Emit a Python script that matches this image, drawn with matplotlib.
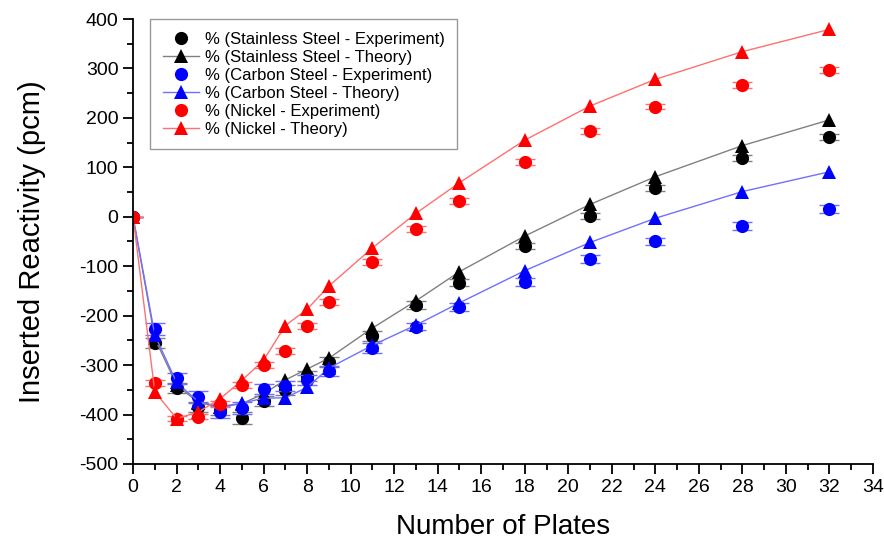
''' Inserted reactivity vs number of plates. '''

import matplotlib
matplotlib.use('Agg')
from matplotlib import pyplot as plt
from matplotlib.ticker import MultipleLocator

plt.rcParams['font.family'] = ['Liberation Sans', 'DejaVu Sans']
plt.rcParams['axes.unicode_minus'] = False

plates = [0, 1, 2, 3, 4, 5, 6, 7, 8, 9, 11, 13, 15, 18, 21, 24, 28, 32]

ssExp = [0, -256, -347, -384, -390, -407, -372, -350, -322, -293, -242, -178, -133, -60, 2, 58, 118, 162]
ssTheory = [0, -246, -340, -376, -385, -378, -358, -330, -308, -286, -225, -170, -111, -39, 25, 81, 144, 196]
csExp = [0, -227, -327, -364, -394, -387, -349, -342, -331, -312, -265, -222, -183, -131, -86, -50, -18, 16]
csTheory = [0, -239, -335, -374, -384, -377, -367, -366, -345, -306, -260, -219, -174, -109, -52, -3, 51, 91]
niExp = [0, -337, -408, -404, -378, -340, -300, -271, -221, -172, -92, -25, 31, 110, 173, 223, 267, 297]
niTheory = [0, -354, -408, -395, -368, -331, -290, -220, -187, -140, -63, 7, 69, 155, 224, 278, 334, 379]

# error bars on the experiments (read roughly from the caps)
ssErr = [0, 10, 10, 10, 10, 12, 10, 10, 10, 10, 10, 8, 8, 6, 6, 6, 6, 6]
csErr = [0, 12, 12, 12, 12, 12, 10, 10, 10, 10, 10, 8, 8, 8, 8, 8, 8, 8]
niErr = [0, 6, 6, 6, 6, 6, 6, 6, 6, 6, 6, 6, 6, 6, 6, 6, 6, 6]

series = [
	('Stainless Steel', ssExp, ssErr, ssTheory, 'black', '#808080'),
	('Carbon Steel', csExp, csErr, csTheory, 'blue', '#7070ff'),
	('Nickel', niExp, niErr, niTheory, 'red', '#ff7070'),
]

fig = plt.figure(figsize=(8.84, 5.43), dpi=100)
ax = fig.add_axes([0.1505, 0.1455, 0.837, 0.8195])

for name, exp, err, theory, col, lineCol in series:
	ax.errorbar(plates, exp, yerr=err, fmt='none', ecolor=lineCol, elinewidth=1, capsize=7, capthick=1)
	ax.plot(plates, exp, 'o', color=col, markersize=9.5, markeredgewidth=0,
		label='% (' + name + ' - Experiment)')
	ax.plot(plates, theory, '-', color=lineCol, linewidth=1, marker='^', markersize=10.5,
		markerfacecolor=col, markeredgecolor=col, markeredgewidth=0,
		label='% (' + name + ' - Theory)')

# legend order follows the original: experiment then theory, per material
handles, labels = ax.get_legend_handles_labels()
leg = ax.legend(handles, labels, loc='upper left', bbox_to_anchor=(0.023, 1.0), borderaxespad=0,
	fontsize=12, frameon=True, fancybox=False, edgecolor='#808080', handlelength=2.2,
	handletextpad=0.35, labelspacing=0.18, borderpad=0.55)
leg.get_frame().set_linewidth(1)
# wider left gap than the default, as in the original box
leg._legend_box.sep = 0
leg._legend_handle_box.pad = 0
leg._legend_box.pad = 9
leg._legend_box.align = 'baseline'

ax.set_xlim(0, 34)
ax.set_ylim(-500, 400)
ax.xaxis.set_major_locator(MultipleLocator(2))
ax.xaxis.set_minor_locator(MultipleLocator(1))
ax.yaxis.set_major_locator(MultipleLocator(100))
ax.yaxis.set_minor_locator(MultipleLocator(50))
ax.spines['top'].set_visible(False)
ax.spines['right'].set_visible(False)
for s in ['left', 'bottom']:
	ax.spines[s].set_linewidth(1.3)
ax.tick_params(which='major', direction='out', length=7, width=1.3, labelsize=14)
ax.tick_params(which='minor', direction='out', length=4, width=1.3)

ax.set_xlabel('Number of Plates', fontsize=20, labelpad=13)
ax.set_ylabel('Inserted Reactivity (pcm)', fontsize=21, labelpad=24)

fig.savefig('out.png', dpi=100)
